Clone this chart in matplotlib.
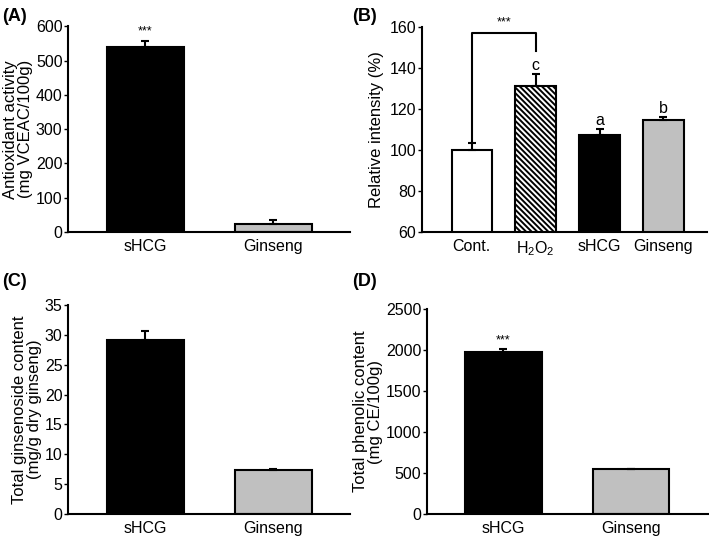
import matplotlib.pyplot as plt

plt.rcParams['font.family'] = ['Liberation Sans', 'DejaVu Sans']
plt.rcParams['mathtext.default'] = 'regular'
plt.rcParams['hatch.linewidth'] = 1.4

# (A) antioxidant activity
a_groups = ['sHCG', 'Ginseng']
a_values = [540, 25]
a_errors = [18, 10]

# (B) relative intensity
b_groups = ['Cont.', 'H$_2$O$_2$', 'sHCG', 'Ginseng']
b_values = [100, 131.5, 107.5, 114.5]
b_errors = [3.5, 5.5, 3, 1.5]
b_letters = ['', 'c', 'a', 'b']

# (C) total ginsenoside content
c_groups = ['sHCG', 'Ginseng']
c_values = [29.2, 7.3]
c_errors = [1.5, 0.2]

# (D) total phenolic content
d_groups = ['sHCG', 'Ginseng']
d_values = [1980, 545]
d_errors = [30, 10]

GRAY = '#c0c0c0'
TICK_FS = 11.5
LABEL_FS = 12


def style_axes(ax):
    for s in ['top', 'right']:
        ax.spines[s].set_visible(False)
    for s in ['left', 'bottom']:
        ax.spines[s].set_linewidth(1.5)
    ax.tick_params(axis='y', length=3, width=1, labelsize=TICK_FS, pad=1)
    ax.tick_params(axis='x', length=0, labelsize=TICK_FS, pad=5)


def two_bar(ax, groups, values, errors, ylim, step, ylabel):
    x = range(len(groups))
    ax.bar(x, values, width=0.6, color=['black', GRAY], edgecolor='black', linewidth=1.5)
    ax.errorbar(x, values, yerr=[[0] * len(errors), errors], fmt='none',
                ecolor='black', elinewidth=1.5, capsize=3, capthick=1.5)
    ax.set_xlim(-0.6, 1.6)
    ax.set_ylim(*ylim)
    ax.set_yticks(range(ylim[0], ylim[1] + 1, step))
    ax.set_xticks(list(x))
    ax.set_xticklabels(groups)
    ax.set_ylabel(ylabel, fontsize=LABEL_FS, labelpad=2, linespacing=1.0)
    style_axes(ax)


fig = plt.figure(figsize=(7.09, 5.36), dpi=100)

axA = fig.add_axes([0.096, 0.567, 0.398, 0.384])
two_bar(axA, a_groups, a_values, a_errors, (0, 600), 100,
        'Antioxidant activity\n(mg VCEAC/100g)')
axA.text(0, a_values[0] + a_errors[0] + 8, '***', ha='center', va='bottom', fontsize=9)

axB = fig.add_axes([0.595, 0.567, 0.402, 0.382])
xb = range(len(b_groups))
bars = axB.bar(xb, b_values, width=0.63, color=['white', 'white', 'black', GRAY],
               edgecolor='black', linewidth=1.5)
bars[1].set_hatch('\\' * 6)
axB.errorbar(xb, b_values, yerr=[[0] * 4, b_errors], fmt='none',
             ecolor='black', elinewidth=1.5, capsize=3, capthick=1.5)
for i, lt in enumerate(b_letters):
    if lt:
        axB.text(i, b_values[i] + b_errors[i] + 0.5, lt, ha='center', va='bottom', fontsize=TICK_FS)
axB.plot([0, 0, 1, 1], [b_values[0] + b_errors[0], 157, 157, 148.5],
         color='black', lw=1.5, clip_on=False)
axB.text(0.5, 159.5, '***', ha='center', va='bottom', fontsize=9)
axB.set_xlim(-0.78, 3.68)
axB.set_ylim(60, 160)
axB.set_yticks(range(60, 161, 20))
axB.set_xticks(list(xb))
axB.set_xticklabels(b_groups)
axB.set_ylabel('Relative intensity (%)', fontsize=LABEL_FS, labelpad=4)
style_axes(axB)

axC = fig.add_axes([0.096, 0.041, 0.398, 0.390])
two_bar(axC, c_groups, c_values, c_errors, (0, 35), 5,
        'Total ginsenoside content\n(mg/g dry ginseng)')

axD = fig.add_axes([0.602, 0.041, 0.396, 0.382])
two_bar(axD, d_groups, d_values, d_errors, (0, 2500), 500,
        'Total phenolic content\n(mg CE/100g)')
axD.text(0, d_values[0] + d_errors[0] + 40, '***', ha='center', va='bottom', fontsize=9)

for lbl, (px, py) in zip(['(A)', '(B)', '(C)', '(D)'],
                         [(0.003, 0.985), (0.497, 0.985), (0.003, 0.49), (0.497, 0.49)]):
    fig.text(px, py, lbl, ha='left', va='top', fontsize=13, fontweight='bold')

fig.savefig('out.png', dpi=100)
